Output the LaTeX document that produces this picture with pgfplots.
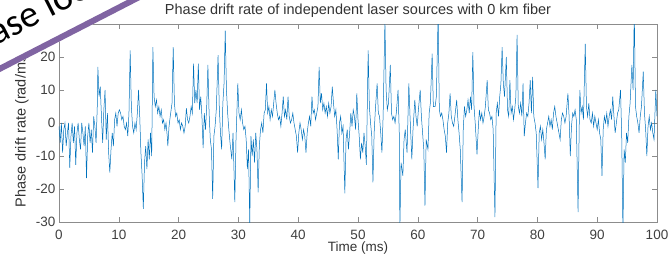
\documentclass[border=0pt]{standalone}
\usepackage{pgfplots}
\pgfplotsset{compat=1.18}
\usepackage{fontspec}
\setmainfont{Liberation Sans}
\newfontfamily\carlito{Carlito}
\definecolor{mblue}{HTML}{0072BD}
\definecolor{ovpurple}{HTML}{8064A2}
\begin{document}
\begin{tikzpicture}
\useasboundingbox (-59pt,-41pt) rectangle (612pt,222pt);
\begin{axis}[
  at={(0pt,0pt)}, anchor=south west,
  scale only axis, width=598pt, height=198pt,
  xmin=0, xmax=100, ymin=-30, ymax=30,
  xtick={0,10,...,100}, ytick={-30,-20,...,30},
  tick align=inside, xtick pos=both, ytick pos=both,
  xticklabel pos=lower, yticklabel pos=left,
  major tick length=5pt,
  axis line style={black!45, line width=0.5pt},
  tick style={black!45, line width=0.5pt},
  /pgf/number format/assume math mode=true,
  ticklabel style={font=\fontsize{13.5}{13.5}\selectfont, text=black!75},
  xticklabel style={yshift=-4.5pt},
  title={Phase drift rate of independent laser sources with 0 km fiber},
  title style={font=\fontsize{14.5}{14.5}\selectfont, text=black!80, at={(axis description cs:0.5,1)}, anchor=base, yshift=4pt},
  xlabel={Time (ms)},
  xlabel style={font=\fontsize{13.5}{13.5}\selectfont, text=black!80, at={(axis description cs:0.5,0)}, anchor=base, yshift=-29pt},
  ylabel={Phase drift rate (rad/ms)},
  ylabel style={font=\fontsize{14.5}{14.5}\selectfont, text=black!80, at={(axis description cs:-0.0619,0.47)}, anchor=center},
]
\addplot[mblue, line width=0.5pt, mark=none] coordinates {
(0,-1) (0.2,-6) (0.4,0) (0.6,-9) (0.8,-2) (1.0,0) (1.2,-7) (1.4,-3) (1.6,0) (1.8,-13.6) (2.0,-4) (2.2,0) (2.4,-6) (2.6,-1) (2.8,-12.7) (3.0,-3) (3.2,0) (3.4,-5) (3.6,-8) (3.8,0) (4.0,-3) (4.2,-7) (4.4,-1) (4.6,-16.7) (4.8,-4) (5.0,0) (5.2,-6) (5.4,-2) (5.6,-9) (5.8,2) (6.0,-1) (6.2,-6) (6.4,5) (6.5,17) (6.7,8) (6.9,11) (7.1,2) (7.3,-6) (7.5,4) (7.7,10) (7.9,-5) (8.1,3) (8.3,-9) (8.5,-15) (8.7,-8) (8.9,-3) (9.1,-7) (9.3,1) (9.5,3) (9.7,-1) (9.9,3) (10.1,4) (10.3,3) (10.5,1) (10.7,2) (10.9,-1) (11.1,-2) (11.3,0) (11.5,-4) (11.7,3) (11.9,22) (12.1,5) (12.3,-1) (12.5,-3) (12.7,0) (12.9,-2) (13.1,3) (13.3,10) (13.5,2) (13.7,-9) (13.9,-16) (14.1,-26) (14.3,-12) (14.5,-7) (14.7,-14) (14.9,-5) (15.1,-11) (15.3,-3) (15.5,-10) (15.7,23) (15.9,8) (16.1,5) (16.3,7) (16.5,3) (16.7,5) (16.9,2) (17.1,4) (17.3,0) (17.5,1) (17.7,-2) (17.9,0) (18.1,-4) (18.2,-7) (18.4,-1) (18.6,2) (18.9,6) (19.1,23) (19.3,6) (19.5,2) (19.7,3) (19.9,0) (20.1,1) (20.3,-2) (20.5,0) (20.7,-1) (20.9,-3) (21.1,-1) (21.3,4.5) (21.5,1) (21.7,0) (21.9,2) (22.1,5) (22.3,3) (22.5,18) (22.7,6) (22.9,10) (23.1,6) (23.3,18) (23.5,4) (23.7,8) (23.9,2) (24.1,-7.6) (24.3,3) (24.5,-2) (24.7,5) (24.9,17.6) (25.1,3) (25.3,-5) (25.5,-8) (25.7,-23) (25.9,-4) (26.1,-1) (26.3,4) (26.6,20.6) (26.8,5) (27.0,-3) (27.2,-8) (27.4,6) (27.6,12) (27.8,28) (28.0,10) (28.2,3) (28.4,-2) (28.6,-6) (28.9,-11) (29.1,-3) (29.4,-24) (29.6,-5) (29.9,12) (30.1,3) (30.3,1) (30.5,4) (30.7,0) (30.9,-2) (31.1,-1) (31.3,-5) (31.5,-14) (31.7,-8) (31.9,-31) (32.1,-4) (32.3,-10) (32.5,-5) (32.7,-12) (32.9,-3) (33.1,-8) (33.3,-21) (33.5,-7) (33.7,-2) (33.9,0) (34.1,-3) (34.3,3) (34.5,4) (34.7,12) (34.9,3) (35.1,5) (35.3,1) (35.5,4) (35.7,2) (35.9,6) (36.1,10) (36.3,6) (36.5,3) (36.7,1) (36.9,2) (37.1,-1) (37.3,3) (37.5,8) (37.7,2) (37.9,4) (38.1,1) (38.3,8) (38.5,2) (38.7,0) (38.9,1) (39.1,3) (39.3,0) (39.5,-2) (39.7,-4) (39.9,-9) (40.1,-3) (40.3,0) (40.5,-2) (40.7,-5) (40.9,-2) (41.1,-4) (41.3,-9) (41.5,-3) (41.7,0) (41.9,2) (42.1,-1) (42.3,8) (42.5,3) (42.7,4) (42.9,1) (43.1,3) (43.3,5) (43.5,17) (43.7,6) (43.9,9) (44.1,4) (44.3,6) (44.5,3) (44.7,5) (44.9,2) (45.1,6) (45.3,3) (45.5,5) (45.7,11) (45.9,6) (46.1,2) (46.3,4) (46.5,-2) (46.7,-11) (46.9,0) (47.1,2) (47.3,-3) (47.5,-1) (47.8,-21.3) (48.0,-5) (48.2,-2) (48.4,-8) (48.6,-3) (48.8,3) (49.0,-1) (49.2,4) (49.4,2) (49.6,-2) (49.8,9) (50.0,1) (50.2,-4) (50.4,-11) (50.6,-6) (50.8,-9) (51.0,-3) (51.2,-7) (51.4,-12.7) (51.7,22) (51.9,5) (52.1,0) (52.3,-4) (52.5,-18) (52.7,-3) (52.9,4) (53.2,12) (53.4,3) (53.6,2) (53.8,-3) (54.0,-9) (54.2,2) (54.5,31) (54.7,10) (54.9,4) (55.1,6) (55.4,17.6) (55.6,3) (55.8,1) (56.0,2) (56.2,0) (56.4,3) (56.7,10) (56.9,-3) (57.0,-32) (57.2,-12) (57.5,-16) (57.7,-5) (57.9,-2) (58.2,-9) (58.5,12) (58.7,2) (59.0,-11) (59.2,-2) (59.5,7) (59.7,2) (59.9,-1) (60.1,4) (60.4,10) (60.6,2) (60.8,-3) (61.0,-8) (61.2,-25) (61.4,-5) (61.7,-8) (61.9,3) (62.1,6) (62.4,21) (62.6,5) (62.9,5) (63.1,8) (63.4,33) (63.6,4) (63.8,2) (64.0,3) (64.2,1) (64.4,-2) (64.6,-4) (64.8,-9) (65.0,0) (65.2,3) (65.4,9) (65.6,2) (65.8,0) (66.0,-1) (66.2,2) (66.5,7) (66.7,1) (66.9,-3) (67.1,-8) (67.4,-24) (67.6,-2) (67.8,5) (68.0,2) (68.2,4) (68.4,7) (68.6,3) (68.8,8) (69.0,4) (69.2,21.5) (69.4,5) (69.6,0) (69.9,-9.5) (70.1,-2) (70.3,4) (70.5,1) (70.7,3) (70.9,0) (71.1,2) (71.3,5) (71.6,13) (71.8,4) (72.0,3) (72.2,1) (72.4,2) (72.6,-2) (72.9,-28.5) (73.1,3) (73.3,6) (73.5,2) (73.7,8) (73.9,12) (74.1,23) (74.3,12) (74.5,8) (74.8,20) (75.0,4) (75.2,2) (75.4,13) (75.6,3) (75.8,5) (76.0,1) (76.2,4) (76.4,8) (76.6,26.7) (76.8,5) (77.0,3) (77.2,6) (77.4,2) (77.6,12) (77.8,-4) (78.0,0) (78.2,3) (78.4,2) (78.6,6) (78.8,13) (79.0,3) (79.2,14) (79.4,2) (79.6,0) (79.8,-3) (80.1,-19.7) (80.3,-3) (80.5,-1) (80.7,-5) (80.9,-2) (81.1,-6) (81.3,-11) (81.5,-2) (81.7,0) (81.9,2) (82.1,-1) (82.3,1) (82.5,-2) (82.7,3) (82.9,5) (83.1,2) (83.3,0) (83.5,-2) (83.8,-5) (84.0,1) (84.2,3) (84.4,2) (84.6,0) (84.8,2) (85.1,9) (85.3,2) (85.5,-10) (85.7,-1) (85.9,3) (86.1,2) (86.3,4) (86.5,1) (86.8,-27) (87.0,0) (87.1,10) (87.3,3) (87.5,5) (87.7,1) (88.0,24) (88.2,5) (88.4,2) (88.6,6) (88.8,1) (89.0,0) (89.2,3) (89.4,-1) (89.6,2) (89.8,0) (90.0,-2) (90.2,1) (90.4,-3) (90.6,-5) (90.8,-16) (91.0,-2) (91.2,2) (91.4,0) (91.6,3) (91.8,-1) (92.0,2) (92.2,4) (92.4,1) (92.6,8) (92.8,2) (93.0,-3) (93.2,0) (93.4,3) (93.6,4) (93.9,10) (94.1,-4) (94.3,-33) (94.5,-8) (94.7,-12) (94.9,-3) (95.1,-6) (95.3,2) (95.5,6) (95.8,17.6) (96.0,10) (96.2,34) (96.4,5) (96.6,2) (96.8,0) (97.0,-3) (97.2,2) (97.4,5) (97.7,15.6) (97.9,3) (98.1,-2) (98.3,-10) (98.5,-1) (98.7,2) (98.9,-2) (99.1,0) (99.3,-3) (99.5,-5) (99.8,10) (100,2)
};
\end{axis}
% slide overlay in the top left corner
\fill[white] (-70pt,144.3pt) -- (96.6pt,230pt) -- (96.6pt,250pt) -- (-70pt,250pt) -- cycle;
\fill[ovpurple] (-70pt,144.3pt) -- (96.6pt,230pt) -- (96.6pt,236.7pt) -- (-70pt,151pt) -- cycle;
\node[rotate=27, anchor=base west, inner sep=0pt, font=\carlito\fontsize{38}{38}\selectfont] at (-105pt,155pt) {Please look};
\end{tikzpicture}
\end{document}
